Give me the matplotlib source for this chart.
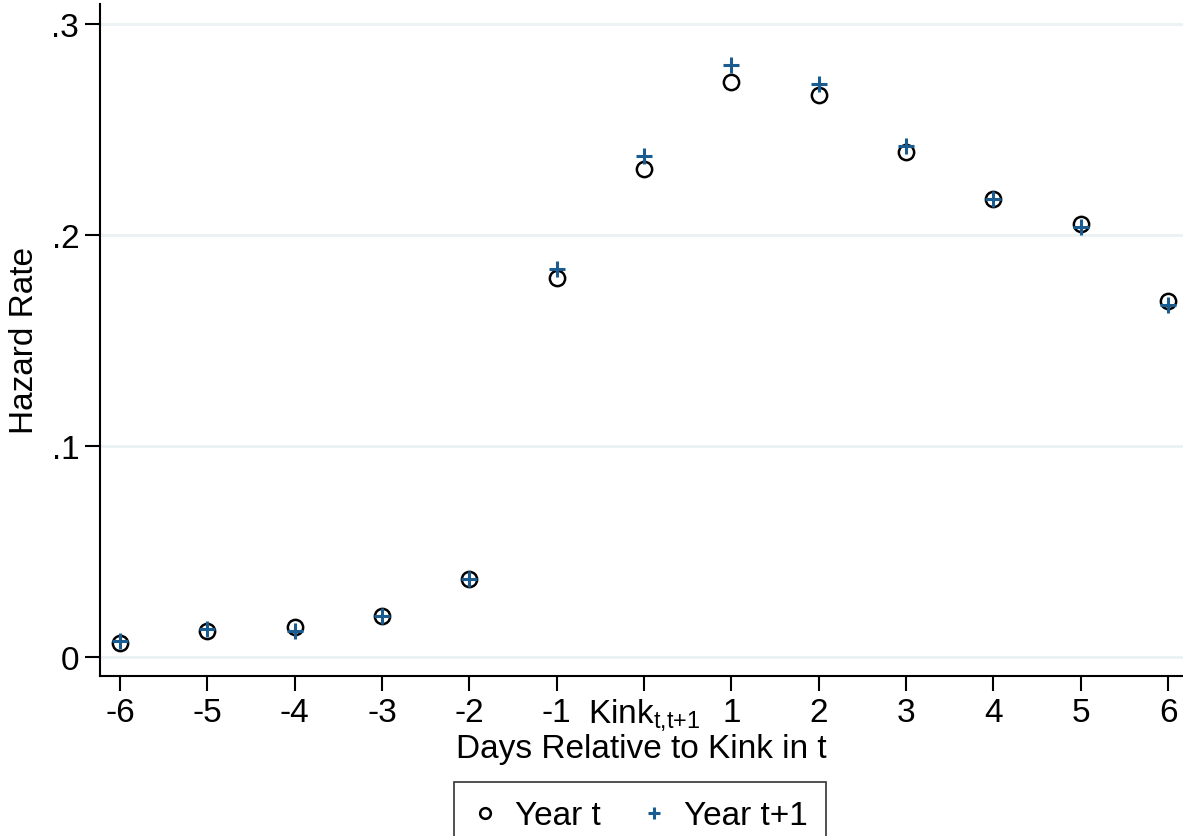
import matplotlib.pyplot as plt

plt.rcParams['font.family'] = ['Liberation Sans', 'DejaVu Sans']
plt.rcParams['mathtext.fontset'] = 'custom'
plt.rcParams['mathtext.rm'] = 'Liberation Sans'

# days relative to the kink
days = [-6, -5, -4, -3, -2, -1, 0, 1, 2, 3, 4, 5, 6]
tick_labels = ['-6', '-5', '-4', '-3', '-2', '-1', r'Kink$_{\mathrm{t{,}t{+}1}}$',
               '1', '2', '3', '4', '5', '6']

# hazard rates
year_t = [0.0066, 0.0124, 0.0141, 0.0193, 0.0370, 0.1796, 0.2313,
          0.2725, 0.2664, 0.2393, 0.2170, 0.2050, 0.1685]
year_t1 = [0.0078, 0.0135, 0.0125, 0.0193, 0.0370, 0.1839, 0.2374,
           0.2806, 0.2716, 0.2422, 0.2170, 0.2040, 0.1670]

fs = 24

fig = plt.figure(figsize=(11.83, 8.37), dpi=100)
ax = fig.add_axes([100 / 1183, 1 - 677 / 837, 1083 / 1183, 672 / 837])

ax.set_xlim(-6.229, 6.17)
ax.set_ylim(-0.009, 0.3095)

for yv in [0, 0.1, 0.2, 0.3]:
    ax.axhline(yv, color='#eaf2f3', lw=2, zorder=0)

ax.plot(days, year_t, ls='none', marker='o', ms=11, mfc='none',
        mec='black', mew=1.8, label='Year t', zorder=3)
ax.plot(days, year_t1, ls='none', marker='+', ms=12, mec='#1a5c8f',
        mew=2.2, label='Year t+1', zorder=4)

ax.spines['top'].set_visible(False)
ax.spines['right'].set_visible(False)
for s in ['left', 'bottom']:
    ax.spines[s].set_linewidth(1.5)

ax.set_xticks(days)
ax.set_xticklabels(tick_labels)
ax.set_yticks([0, 0.1, 0.2, 0.3])
ax.set_yticklabels(['0', '.1', '.2', '.3'])
ax.tick_params(axis='both', labelsize=fs, length=11, width=1.5, pad=4)

ax.set_xlabel('Days Relative to Kink in t', fontsize=fs, labelpad=0)
ax.set_ylabel('Hazard Rate', fontsize=fs, labelpad=8)

leg = fig.legend(loc='upper center', bbox_to_anchor=(640 / 1183, 1 - 783 / 837),
                 borderaxespad=0, ncol=2, fontsize=fs, frameon=True,
                 fancybox=False, markerscale=0.7, handlelength=0.8,
                 handletextpad=0.5, columnspacing=1.2, borderpad=0.55)
leg.get_frame().set_edgecolor('black')
leg.get_frame().set_linewidth(1.2)

fig.savefig('out.png', dpi=100)
